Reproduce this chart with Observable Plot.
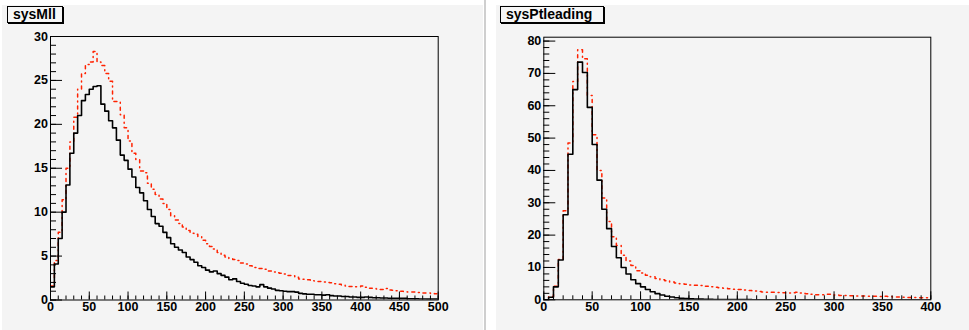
<!DOCTYPE html>
<html><head><meta charset="utf-8">
<script src="https://cdn.jsdelivr.net/npm/d3@7"></script>
<script src="https://cdn.jsdelivr.net/npm/@observablehq/plot@0.6"></script>
<style>
html,body{margin:0;padding:0;background:#fff;}
#canvas{position:relative;width:969px;height:330px;overflow:hidden;background:#fff;font-family:"Liberation Sans",Arial,sans-serif;}
.pad{position:absolute;background:#f4f4f4;}
.sep{position:absolute;background:#cfcfcf;}
.title{position:absolute;box-sizing:border-box;border:1px solid #000;box-shadow:1px 1px 0 #000;background:#f6f6f6;font-weight:bold;font-size:14px;line-height:15px;padding-left:5px;color:#000;white-space:nowrap;}
.plotwrap{position:absolute;top:0;}
</style></head>
<body><div id="canvas">
<div class="pad" style="left:2px;top:5px;width:481px;height:325px"></div>
<div class="sep" style="left:484px;top:0;width:2px;height:330px"></div>
<div class="pad" style="left:496px;top:5px;width:473px;height:325px"></div>
<div id="left" class="plotwrap" style="left:0"></div>
<div id="right" class="plotwrap" style="left:485px"></div>
<div class="title" id="t1" style="left:7px;top:6px;width:56px;height:17px"></div>
<div class="title" id="t2" style="left:500px;top:6px;width:104px;height:17px"></div>
</div>
<script>
// ---- data ----
const titles = ["sysMll", "sysPtleading"];
const binWidth = 5;

const mllBlack = [1.5,4.1,7.0,10.0,13.1,16.7,19.0,21.0,22.7,23.4,
 24.0,24.3,24.4,22.3,21.5,20.4,19.6,18.2,16.5,15.9,
 14.9,14.0,12.8,12.2,11.3,10.3,9.5,8.7,8.4,7.7,
 7.1,6.4,6.0,5.7,5.4,4.9,4.6,4.3,3.9,3.7,
 3.4,3.2,3.3,3.0,2.8,2.6,2.3,2.4,2.1,1.9,
 1.8,1.65,1.6,1.5,1.75,1.5,1.35,1.25,1.1,1.05,
 1.0,0.95,0.95,0.9,0.75,0.7,0.65,0.65,0.6,0.6,
 0.55,0.6,0.5,0.45,0.45,0.4,0.4,0.35,0.35,0.3,
 0.3,0.35,0.3,0.25,0.25,0.22,0.22,0.2,0.2,0.2,
 0.18,0.18,0.15,0.15,0.15,0.12,0.12,0.1,0.1,0.1];

const mllRed = [1.6,4.5,7.7,11.4,15.0,18.0,20.8,24.0,25.8,26.8,
 27.1,28.3,27.1,26.7,25.8,24.9,22.6,22.6,21.1,19.6,
 18.1,16.7,16.0,14.7,14.5,13.3,12.6,12.0,11.5,11.0,
 10.3,9.6,9.1,8.7,8.3,7.9,7.6,7.5,7.2,6.8,
 6.4,6.1,5.8,5.4,5.1,4.9,4.7,4.6,4.5,4.2,
 4.1,3.9,3.7,3.6,3.6,3.5,3.3,3.2,3.1,3.05,
 2.95,2.8,2.75,2.6,2.4,2.35,2.3,2.2,2.15,2.1,
 2.05,2.0,1.95,1.85,1.8,1.7,1.6,1.55,1.5,1.5,
 1.6,1.45,1.35,1.3,1.25,1.2,1.3,1.15,1.1,1.05,
 1.0,0.95,0.9,0.9,0.85,0.85,0.8,0.8,0.75,0.7];

const ptBlack = [0,0.8,4.0,12.3,26.3,45.0,65.0,73.5,70.3,59.5,
 48.0,37.0,28.0,22.0,16.5,13.0,10.0,8.0,6.2,5.0,
 4.0,3.2,2.5,1.9,1.5,1.1,0.85,0.65,0.5,0.4,
 0.32,0.25,0.2,0.16,0.13,0.1,0.08,0.07,0.06,0.05,
 0.05,0.04,0.04,0.03,0.03,0.03,0.02,0.02,0.02,0.02,
 0.02,0.01,0.01,0.01,0.01,0.01,0.01,0.01,0.01,0.01,
 0,0,0,0,0,0,0,0,0,0,
 0,0,0,0,0,0,0,0,0,0];

const ptRed = [0,1.0,4.2,12.5,27.5,48.5,67.5,77.3,74.5,63.2,
 51.0,40.0,31.5,24.2,19.5,16.8,13.8,12.0,10.6,9.0,
 8.3,7.6,7.1,6.6,6.2,5.9,5.5,5.2,5.0,4.8,
 4.6,4.5,4.4,4.2,4.0,3.9,3.7,3.6,3.4,3.3,
 3.2,3.0,2.9,2.7,2.6,2.4,2.35,2.3,2.25,2.2,
 2.1,2.2,2.3,2.1,1.9,1.7,1.6,1.6,1.7,1.7,
 1.5,1.35,1.3,1.25,1.2,1.2,1.15,1.1,1.1,1.05,
 1.1,1.0,0.9,0.85,0.8,0.75,0.7,0.65,0.65,0.6];

const mllXMajor = [0,50,100,150,200,250,300,350,400,450,500];
const mllXMinor = d3.range(0, 501, 10);
const mllYMajor = [0,5,10,15,20,25,30];
const mllYMinor = d3.range(0, 31, 1);
const ptXMajor = [0,50,100,150,200,250,300,350,400];
const ptXMinor = d3.range(0, 401, 10);
const ptYMajor = [0,10,20,30,40,50,60,70,80];
const ptYMinor = d3.range(0, 81, 2);

// ---- helpers ----
function histPoints(values) {
  const pts = values.map((v, i) => ({x: i * binWidth, y: v}));
  pts.push({x: values.length * binWidth, y: values[values.length - 1]});
  return pts;
}

function pad(o) {
  return Plot.plot({
    width: o.width, height: 330,
    marginLeft: o.ml, marginRight: o.mr, marginTop: o.mt, marginBottom: o.mb,
    x: {domain: o.xDomain, label: null},
    y: {domain: o.yDomain, label: null},
    style: {background: "transparent", overflow: "visible", color: "#000",
            fontFamily: "'Liberation Sans', Arial, sans-serif", fontSize: "12.5px", fontWeight: "bold"},
    marks: [
      Plot.line(histPoints(o.red), {x: "x", y: "y", curve: "step-after", stroke: "#ff2200",
        strokeWidth: 1.5, strokeDasharray: "3,4,1,4", clip: true}),
      Plot.line(histPoints(o.black), {x: "x", y: "y", curve: "step-after", stroke: "#000",
        strokeWidth: 1.6, clip: true}),
      Plot.axisX({ticks: o.xMinor, tickSize: -o.xt / 2, fill: "none", label: null}),
      Plot.axisX({ticks: o.xMajor, tickSize: -o.xt, fill: "none", label: null}),
      Plot.axisX({ticks: o.xMajor, tickSize: 0, tickPadding: 2, label: null, tickFormat: d => String(d)}),
      Plot.axisY({ticks: o.yMinor, tickSize: -o.yt / 2, fill: "none", label: null}),
      Plot.axisY({ticks: o.yMajor, tickSize: -o.yt, fill: "none", label: null}),
      Plot.axisY({ticks: o.yMajor, tickSize: 0, tickPadding: 2.5, label: null, tickFormat: d => String(d)}),
      Plot.frame({stroke: "#000", strokeWidth: 1})
    ]
  });
}

document.getElementById("left").append(pad({
  width: 484, ml: 50, mr: 46.3, mt: 36, mb: 30.5,
  xDomain: [0, 500], yDomain: [0, 30],
  black: mllBlack, red: mllRed,
  xMajor: mllXMajor, xMinor: mllXMinor, yMajor: mllYMajor, yMinor: mllYMinor,
  xt: 8, yt: 12
}));

document.getElementById("right").append(pad({
  width: 484, ml: 58.3, mr: 38.7, mt: 36.7, mb: 30.7,
  xDomain: [0, 400], yDomain: [0, 81.2],
  black: ptBlack, red: ptRed,
  xMajor: ptXMajor, xMinor: ptXMinor, yMajor: ptYMajor, yMinor: ptYMinor,
  xt: 8, yt: 12
}));

document.getElementById("t1").textContent = titles[0];
document.getElementById("t2").textContent = titles[1];
</script>
</body></html>
